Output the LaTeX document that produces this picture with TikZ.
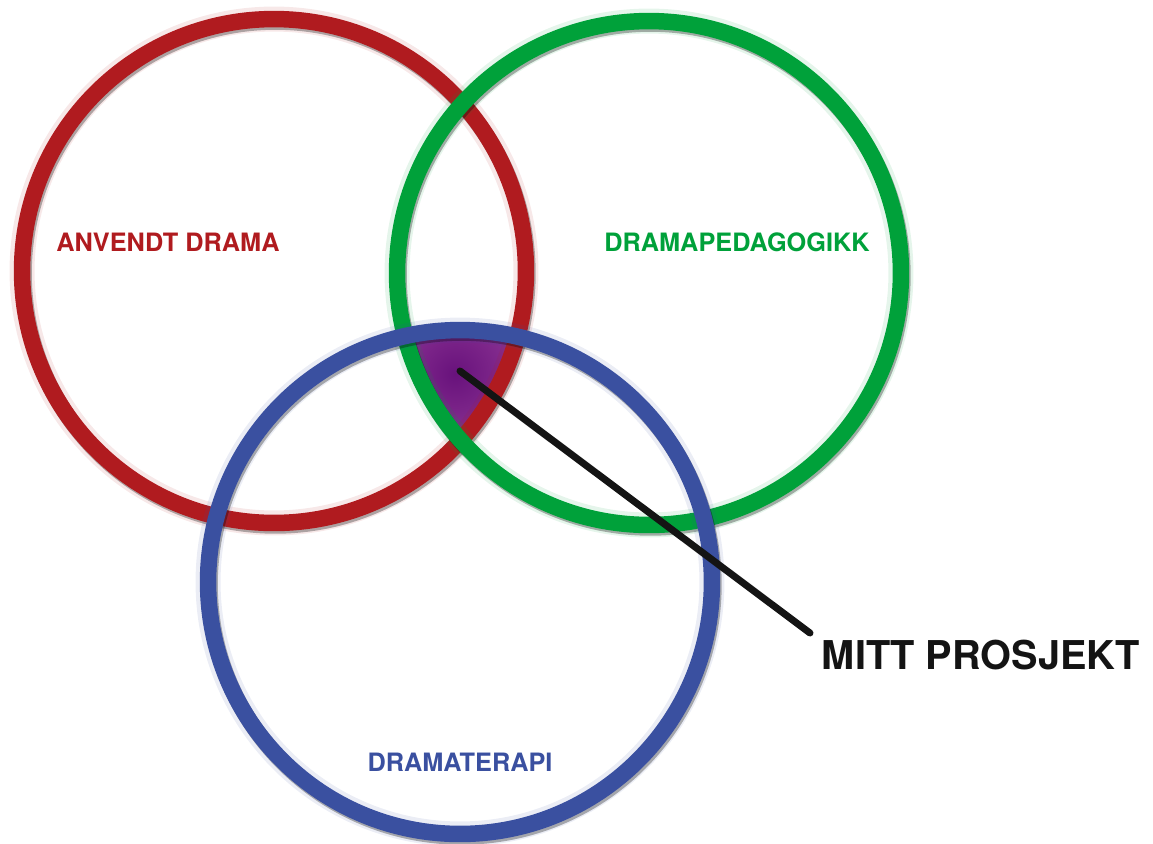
\documentclass[tikz,border=0pt]{standalone}
\usepackage{fontspec}
\newfontfamily\heros{TeX Gyre Heros}
\definecolor{ringred}{RGB}{176,27,31}
\definecolor{ringgreen}{RGB}{0,161,58}
\definecolor{ringblue}{RGB}{58,80,160}
\definecolor{coredark}{RGB}{104,18,124}
\definecolor{corelight}{RGB}{168,78,166}
\tikzset{
  ring/.style={circle,minimum size=10.08cm,line width=0.33cm},
  ringglow/.style={line width=0.5cm,draw opacity=0.1},
  ringshade/.style={line width=0.33cm,draw=black,draw opacity=0.3},
  tag/.style={font=\heros\bfseries\fontsize{14.4}{16}\selectfont},
}
\begin{document}
\begin{tikzpicture}[x=0.02cm,y=-0.02cm]
    \useasboundingbox (0,0) rectangle (1153,843);
    \coordinate (cred) at (274,271);
    \coordinate (cgreen) at (649,273);
    \coordinate (cblue) at (460,582);
    \coordinate (core) at (460,371);
    \coordinate (tip) at (810,633);
    \begin{scope}
        \clip (cred) circle (5.04cm);
        \clip (cgreen) circle (5.04cm);
        \clip (cblue) circle (5.04cm);
        \shade[inner color=coredark,outer color=corelight] (455,374) circle (2.5cm);
    \end{scope}
    \draw[ringglow,draw=ringred] (cred) circle (5.04cm);
    \draw[ringshade] ([shift={(1.5,2.5)}]cred) circle (5.04cm);
    \node at (cred) [ring,draw=ringred] (anvendt) {};
    \draw[ringglow,draw=ringgreen] (cgreen) circle (5.04cm);
    \draw[ringshade] ([shift={(1.5,2.5)}]cgreen) circle (5.04cm);
    \node at (cgreen) [ring,draw=ringgreen] (pedagogikk) {};
    \draw[ringglow,draw=ringblue] (cblue) circle (5.04cm);
    \draw[ringshade] ([shift={(1.5,2.5)}]cblue) circle (5.04cm);
    \node at (cblue) [ring,draw=ringblue] (terapi) {};
    \node at (168,242) [tag,text=ringred] (anvendtlabel) {ANVENDT DRAMA};
    \node at (737,242) [tag,text=ringgreen] (pedagogikklabel) {DRAMAPEDAGOGIKK};
    \node at (460,762) [tag,text=ringblue] (terapilabel) {DRAMATERAPI};
    \node at (981,655) [font=\heros\bfseries\fontsize{22.6}{26}\selectfont,text=black!92] (prosjekt) {MITT PROSJEKT};
    \draw[line width=0.14cm,line cap=round,black!92] (core) -- (tip);
\end{tikzpicture}
\end{document}
